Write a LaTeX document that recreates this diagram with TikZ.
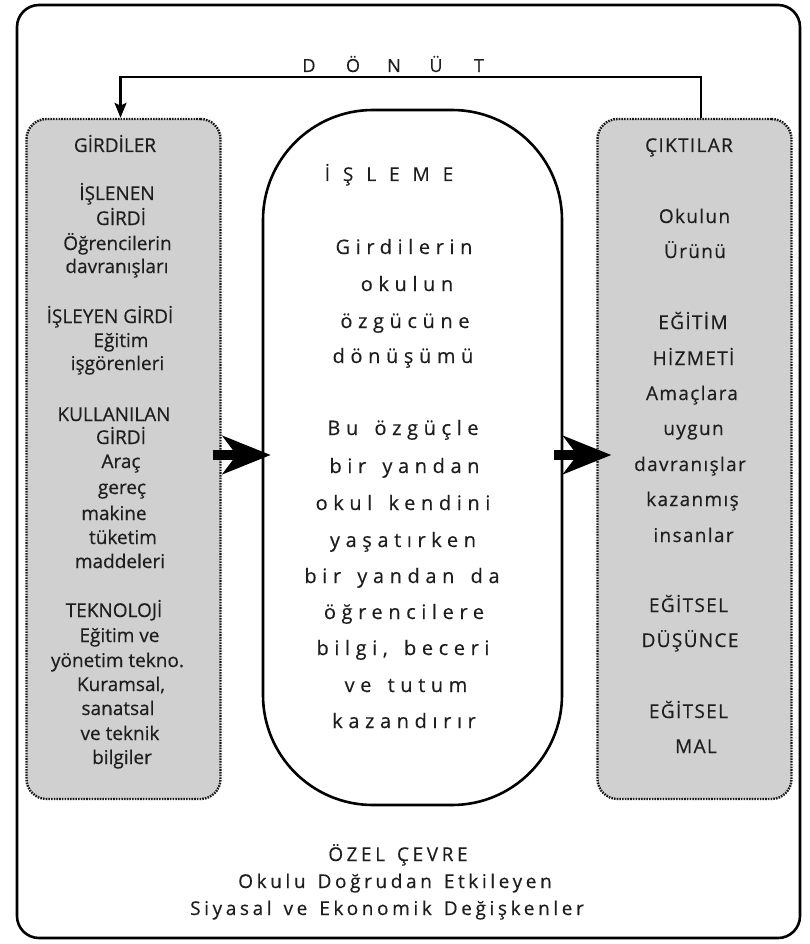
\documentclass[tikz,border=0pt]{standalone}
\usepackage{fontspec}
\setmainfont{Open Sans}[FakeBold=0.4]
\newfontfamily\lfont[LetterSpace=0,FakeBold=0.4]{Open Sans}
\newfontfamily\rfont[LetterSpace=7,FakeBold=0.4]{Open Sans}
\newfontfamily\cfont[LetterSpace=28,WordSpace=1.5,FakeBold=0.4]{Open Sans}
\newfontfamily\hfont[LetterSpace=68,FakeBold=0.4]{Open Sans}
\newfontfamily\bfont[LetterSpace=19,WordSpace=1.4,FakeBold=0.4]{Open Sans}
\usetikzlibrary{arrows.meta}
\definecolor{boxgray}{RGB}{208,208,208}
\definecolor{ink}{RGB}{30,30,30}
\tikzset{
  frame/.style={draw=black, line width=2.6pt, rounded corners=22pt,
    minimum width=783pt, minimum height=933pt, inner sep=0pt},
  sidebox/.style={draw=black!90, fill=boxgray, line width=2.4pt,
    dash pattern=on 1.6pt off 1.1pt, rounded corners=20pt,
    minimum width=194pt, minimum height=680pt, inner sep=0pt},
  procbox/.style={draw=black, line width=2.6pt, rounded corners=110pt,
    minimum width=299pt, minimum height=695pt, inner sep=0pt},
  ltext/.style={anchor=base, inner sep=0pt, text=ink, font=\lfont\fontsize{19}{21}\selectfont},
  rtext/.style={anchor=base, inner sep=0pt, text=ink, font=\rfont\fontsize{19}{21}\selectfont},
  ctext/.style={anchor=base, inner sep=0pt, text=ink, font=\cfont\fontsize{20}{22}\selectfont},
  htext/.style={anchor=base, inner sep=0pt, text=ink, font=\hfont\fontsize{19}{21}\selectfont},
  btext/.style={anchor=base, inner sep=0pt, text=ink, font=\bfont\fontsize{19}{21}\selectfont},
  dtext/.style={anchor=base, inner sep=0pt, text=ink, font=\fontsize{18}{20}\selectfont},
  bigarrow/.style={line width=10pt, -{Stealth[length=48pt,width=38pt,inset=14pt]}},
  fbline/.style={line width=2.6pt, -{Stealth[length=15pt,width=12pt,inset=3pt]}}
}
\begin{document}
\begin{tikzpicture}[x=1pt,y=-1pt]
\useasboundingbox (0,0) rectangle (810,944);
\node[frame] (frame) at (408.5,471.5) {};
\node[sidebox] (lbox) at (123.5,459) {};
\node[sidebox] (rbox) at (694.5,459) {};
\node[procbox] (proc) at (412.5,457.5) {};
% feedback
\coordinate (fbtop) at (400,77);
\draw[fbline] ([xshift=6.5pt]rbox.north) |- (fbtop) -| ([xshift=-3pt]lbox.north);
\foreach \xx/\c [count=\i] in {309/D,353/Ö,394/N,436/Ü,479/T}
  \node[dtext] (d\i) at (\xx,72) {\c};
% big arrows
\draw[bigarrow] ([shift={(-9pt,4pt)}]lbox.east) -- ([shift={(9pt,2.5pt)}]proc.west);
\draw[bigarrow] ([shift={(-9pt,2.5pt)}]proc.east) -- ([shift={(15pt,4pt)}]rbox.west);
% left texts
\foreach \xx/\yy/\txt [count=\i] in {
  115/152/GİRDİLER,
  117/200/İŞLENEN, 121/225/GİRDİ, 117.5/250/Öğrencilerin, 117/273/davranışları,
  110/323/İŞLEYEN GİRDİ, 121/347/Eğitim, 117.5/370/işgörenleri,
  114/421/KULLANILAN, 121/444/GİRDİ, 121/468/Araç, 122/494/gereç, 114/520/makine,
  123/544/tüketim, 120/568/maddeleri,
  114/617/TEKNOLOJİ, 119.5/642/Eğitim ve, 117.5/667/yönetim tekno., 121/691/{Kuramsal,},
  118/715/sanatsal, 120/740/ve teknik, 122/764/bilgiler}
  \node[ltext] (l\i) at (\xx,\yy) {\txt};
% right texts
\foreach \xx/\yy/\txt [count=\i] in {
  688/152/ÇIKTILAR,
  693.5/223/Okulun, 694/258/Ürünü,
  692/329/EĞİTİM, 692.5/365/HİZMETİ, 691/400/Amaçlara, 692.5/435/uygun,
  689/471/davranışlar, 691.5/506/kazanmış, 692.5/542/insanlar,
  687.5/612/EĞİTSEL, 689/647/DÜŞÜNCE,
  687.5/718/EĞİTSEL, 695/753/MAL}
  \node[rtext] (r\i) at (\xx+1,\yy) {\txt};
% centre texts
\node[htext] (c0) at (389,181) {İŞLEME};
\foreach \xx/\yy/\txt [count=\i] in {
  401/254/Girdilerin, 404/291/okulun, 402/328/özgücüne, 400/363/dönüşümü,
  400/435/Bu özgüçle, 401.5/473/bir yandan, 400/510/okul kendini,
  400/547/yaşatırken, 399/583/bir yandan da, 401/619/öğrencilere,
  400/655/{bilgi, beceri}, 403/692/ve tutum, 401/728/kazandırır}
  \node[ctext] (c\i) at (\xx+3,\yy) {\txt};
% bottom texts
\node[btext] (b1) at (398,861) {ÖZEL ÇEVRE};
\node[btext] (b2) at (395,888) {Okulu Doğrudan Etkileyen};
\node[btext] (b3) at (387,915) {Siyasal ve Ekonomik Değişkenler};
\end{tikzpicture}
\end{document}
